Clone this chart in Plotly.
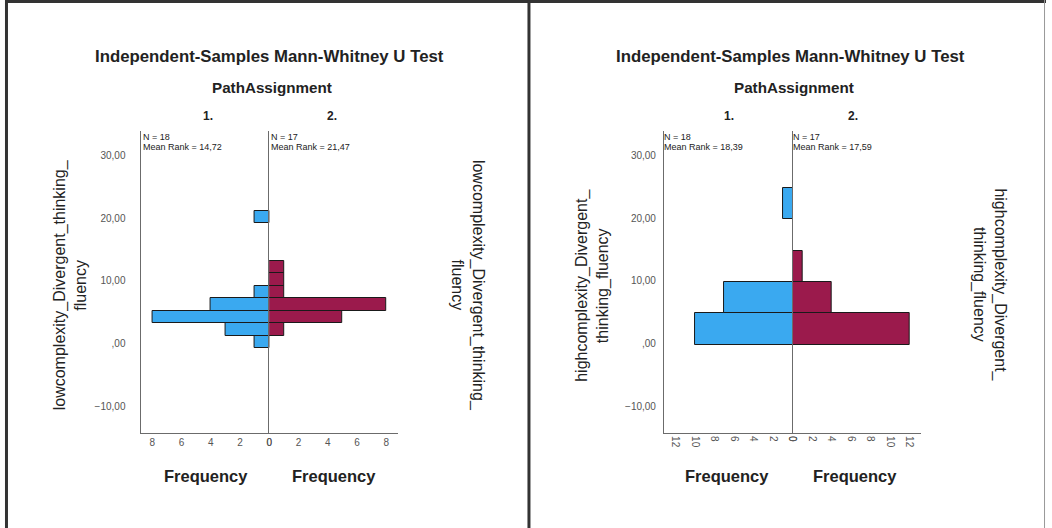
import plotly.graph_objects as go

# ---------------- data ----------------
# Left panel: lowcomplexity_Divergent_thinking_fluency (bin width 2)
low_centers = [0.2, 2.2, 4.2, 6.2, 8.2, 10.2, 12.2, 20.2]
low_group1 = [1, 3, 8, 4, 1, 0, 0, 1]
low_group2 = [0, 1, 5, 8, 1, 1, 1, 0]
low_bin_width = 2.0

# Right panel: highcomplexity_Divergent_thinking_fluency (bin width 5)
high_centers = [2.3, 7.3, 12.3, 22.3]
high_group1 = [10, 7, 0, 1]
high_group2 = [12, 4, 1, 0]
high_bin_width = 5.0

y_tickvals = [-10, 0, 10, 20, 30]
y_ticktext = ["\u221210,00", ",00", "10,00", "20,00", "30,00"]
low_xticks = [0, 2, 4, 6, 8]
high_xticks = [0, 2, 4, 6, 8, 10, 12]

groups = ["1.", "2."]
n_low = ["N = 18", "N = 17"]
rank_low = ["Mean Rank = 14,72", "Mean Rank = 21,47"]
n_high = ["N = 18", "N = 17"]
rank_high = ["Mean Rank = 18,39", "Mean Rank = 17,59"]
ytitle_low = "lowcomplexity_Divergent_thinking_<br>fluency"
ytitle_high = "highcomplexity_Divergent_<br>thinking_fluency"
main_title = "Independent-Samples Mann-Whitney U Test"
sub_title = "PathAssignment"
freq_label = "Frequency"

BLUE = "#3AA9F0"
RED = "#9B1A4C"
W, H = 1052, 528
FONT = "Liberation Sans, Arial, sans-serif"
GRAY = "#555555"
AXC = "#6b6b6b"


def px(x):
    return x / W


def py(y):
    return 1 - y / H


Y_RANGE = [-14.3, 33.9]
Y_DOMAIN = [py(433), py(131)]

fig = go.Figure()

# bars
fig.add_trace(go.Bar(orientation="h", y=low_centers, x=low_group1, width=low_bin_width,
                     marker=dict(color=BLUE, line=dict(color="#1a1a1a", width=1)),
                     xaxis="x", yaxis="y", showlegend=False))
fig.add_trace(go.Bar(orientation="h", y=low_centers, x=low_group2, width=low_bin_width,
                     marker=dict(color=RED, line=dict(color="#1a1a1a", width=1)),
                     xaxis="x2", yaxis="y2", showlegend=False))
fig.add_trace(go.Bar(orientation="h", y=high_centers, x=high_group1, width=high_bin_width,
                     marker=dict(color=BLUE, line=dict(color="#1a1a1a", width=1)),
                     xaxis="x3", yaxis="y4", showlegend=False))
fig.add_trace(go.Bar(orientation="h", y=high_centers, x=high_group2, width=high_bin_width,
                     marker=dict(color=RED, line=dict(color="#1a1a1a", width=1)),
                     xaxis="x4", yaxis="y5", showlegend=False))

tickfont = dict(family=FONT, size=10, color=GRAY)


def xax(domain, rng, ticks, anchor, angle=0):
    return dict(domain=domain, range=rng, tickvals=ticks, anchor=anchor,
                showline=True, linecolor=AXC, linewidth=1.2, showgrid=False,
                zeroline=False, ticks="", tickfont=tickfont, tickangle=angle,
                fixedrange=True)


def yax(anchor, side, labels, overlay=None, ticklen=0):
    d = dict(domain=Y_DOMAIN, range=Y_RANGE, anchor=anchor, side=side,
             showline=True, linecolor=AXC, linewidth=1.2, showgrid=False,
             zeroline=False, tickvals=y_tickvals, ticktext=y_ticktext,
             showticklabels=labels, tickfont=tickfont, fixedrange=True)
    if ticklen:
        d.update(ticks="outside", ticklen=ticklen, tickcolor="rgba(0,0,0,0)")
    else:
        d.update(ticks="")
    if overlay:
        d["overlaying"] = overlay
    return d


OFF = 527
fig.update_layout(
    width=W, height=H, margin=dict(l=0, r=0, t=0, b=0),
    paper_bgcolor="white", plot_bgcolor="rgba(0,0,0,0)",
    bargap=0, showlegend=False,
    font=dict(family=FONT, color="#222222"),
    xaxis=xax([px(137), px(267)], [8.8, 0], low_xticks, "y"),
    xaxis2=xax([px(267), px(397)], [0, 8.8], low_xticks, "y2"),
    xaxis3=xax([px(137 + OFF + 2), px(267 + OFF + 2)], [13.2, 0], high_xticks, "y4", 90),
    xaxis4=xax([px(267 + OFF + 2), px(397 + OFF + 2)], [0, 13.2], high_xticks, "y5", 90),
    yaxis=yax("x", "left", True, ticklen=12),
    yaxis2=yax("x2", "left", False, overlay="y"),
    yaxis3=yax("x2", "right", True, overlay="y", ticklen=3),
    yaxis4=yax("x3", "left", True, ticklen=5),
    yaxis5=yax("x4", "left", False, overlay="y4"),
    yaxis6=yax("x4", "right", True, overlay="y4", ticklen=3),
)

ann = []


def text(x, y, t, size, bold=False, xanchor="center", yanchor="middle", angle=0, color="#222222"):
    ann.append(dict(x=px(x), y=py(y), xref="paper", yref="paper", text=f"<b>{t}</b>" if bold else t,
                    showarrow=False, xanchor=xanchor, yanchor=yanchor, textangle=angle,
                    font=dict(family=FONT, size=size, color=color), align="center"))


for off, ns, ranks, ytitle in [(0, n_low, rank_low, ytitle_low), (OFF, n_high, rank_high, ytitle_high)]:
    text(267 + off, 57, main_title, 16.8, bold=True)
    text(270 + off, 88, sub_title, 15.2, bold=True)
    text(205 + off, 116, groups[0], 12, bold=True)
    text(330 + off, 116, groups[1], 12, bold=True)
    text(203 + off, 476, freq_label, 16.5, bold=True)
    text(332 + off, 476, freq_label, 16.5, bold=True)
    for i, gx in enumerate([137, 267]):
        text(gx + off, 137, ns[i], 9, xanchor="left")
        text(gx + off, 147, ranks[i], 9, xanchor="left")
    text(66 + off, 285, ytitle, 16, angle=-90)
    text(468 + off, 285, ytitle, 16, angle=90)

fig.update_layout(annotations=ann)

# panel frame lines
shapes = [
    dict(type="line", xref="paper", yref="paper", x0=0, x1=1, y0=py(1.5), y1=py(1.5),
         line=dict(color="#333333", width=3)),
    dict(type="line", xref="paper", yref="paper", x0=px(1.5), x1=px(1.5), y0=0, y1=1,
         line=dict(color="#333333", width=3)),
    dict(type="line", xref="paper", yref="paper", x0=px(529.5), x1=px(529.5), y0=0, y1=1,
         line=dict(color="#333333", width=3)),
    dict(type="line", xref="paper", yref="paper", x0=px(1050.5), x1=px(1050.5), y0=0, y1=1,
         line=dict(color="#999999", width=1)),
]
fig.update_layout(shapes=shapes)

fig.write_html("out.html", config={"displayModeBar": False},
               post_script="document.body.style.margin='0';")
